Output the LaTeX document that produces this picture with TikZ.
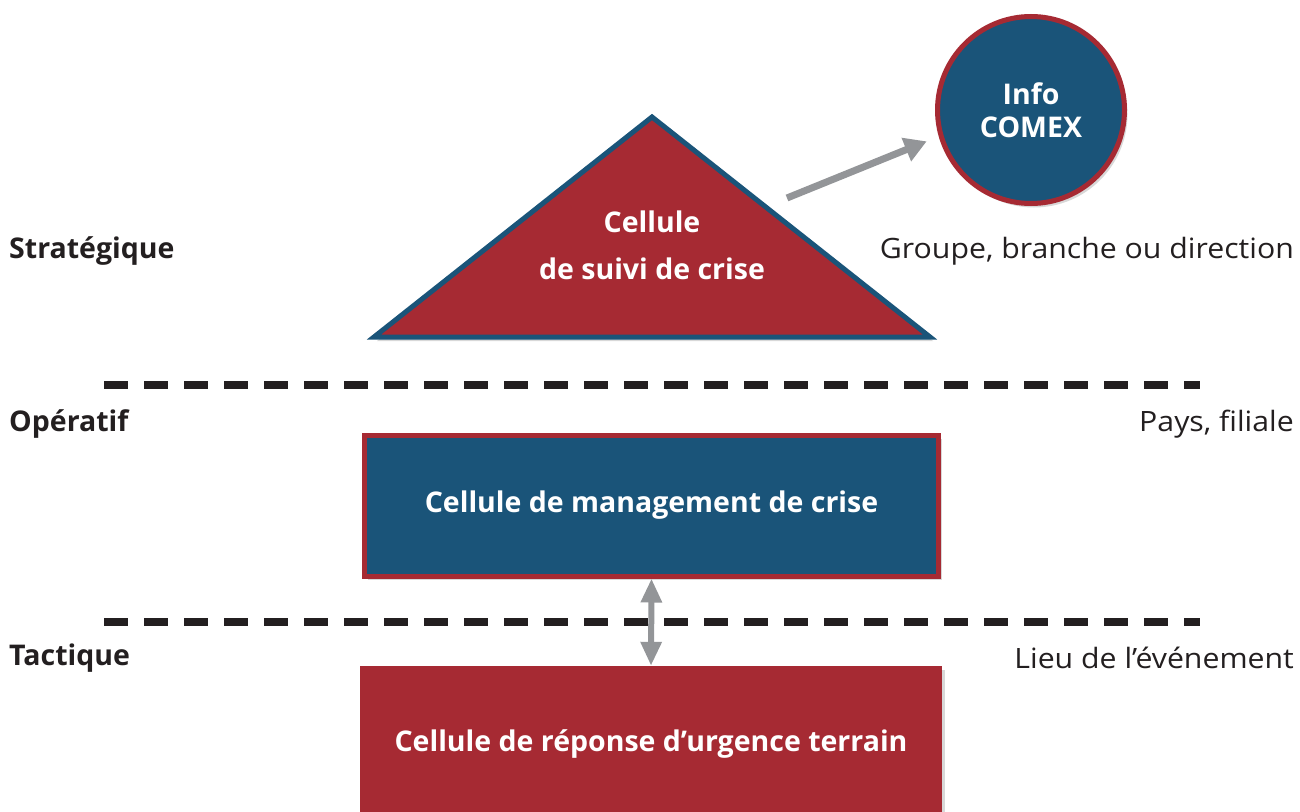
\documentclass[tikz,border=0pt]{standalone}
\usepackage{fontspec}
\setmainfont{Open Sans}[Ligatures=NoCommon]
\newfontfamily\scopefont{Open Sans}[Ligatures=NoCommon,FakeStretch=1.08]
\usetikzlibrary{arrows.meta,shadows,calc}
\definecolor{cred}{HTML}{A62A33}
\definecolor{cblue}{HTML}{1A5479}
\definecolor{cgray}{HTML}{939598}
\definecolor{ctext}{HTML}{231F20}
\begin{document}
\begin{tikzpicture}[x=1pt,y=-1pt,
  shadowed/.style={drop shadow={opacity=0.3,shadow xshift=3pt,shadow yshift=-4pt}},
  lvl/.style={anchor=west,text=ctext,font=\fontsize{28.5}{32}\selectfont\bfseries,inner sep=0pt},
  scope/.style={anchor=east,text=ctext,font=\scopefont\fontsize{28}{32}\selectfont,inner sep=0pt},
  whitetext/.style={text=white,font=\fontsize{28.5}{33}\selectfont\bfseries,align=center},
  sep/.style={line width=8pt,draw=ctext,dash pattern=on 24pt off 16pt},
  grayarrow/.style={draw=cgray,line width=7pt},
]
\useasboundingbox (0,0) rectangle (1300,811);
\fill[white] (0,0) rectangle (1300,811);

% separators
\coordinate (s1a) at (104,385);
\coordinate (s1b) at (1200,385);
\coordinate (s2a) at (104,622);
\coordinate (s2b) at (1200,622);
\draw[sep] (s1a) -- (s1b);
\draw[sep] (s2a) -- (s2b);

% triangle
\path[fill=cred,draw=cblue,line width=5pt,line join=miter,shadowed]
  (652,117) -- (374,337) -- (930,337) -- cycle;
\node[whitetext,font=\fontsize{28.5}{47}\selectfont\bfseries] (suivi) at (652,245) {Cellule\\de suivi de crise};

% circle
\node[circle,fill=cblue,draw=cred,line width=5pt,minimum size=187pt,inner sep=0pt,shadowed,
  whitetext] (comex) at (1031,110) {Info\\COMEX};

% arrow to comex
\coordinate (arrS) at (787,198);
\draw[grayarrow,-{Triangle[length=22pt,width=24pt]},shorten >=13pt] (arrS) -- (comex.196);

% rectangles
\node[rectangle,fill=cblue,draw=cred,line width=5pt,minimum width=574pt,minimum height=141pt,
  shadowed,whitetext] (mgmt) at (651.5,505.5) {Cellule de management de crise};
\node[rectangle,fill=cred,minimum width=582pt,minimum height=156pt,
  shadowed,whitetext] (terrain) at (651,744) {Cellule de réponse d’urgence terrain};

\draw[grayarrow,line width=6pt,{Triangle[length=24pt,width=20pt]}-{Triangle[length=24pt,width=20pt]}]
  (mgmt.south) -- (terrain.north);

% labels
\node[lvl] (strat) at (9,251) {Stratégique};
\node[lvl] (oper) at (9,424) {Opératif};
\node[lvl] (tact) at (9,658) {Tactique};
\node[scope] (groupe) at (1294,251) {Groupe, branche ou direction};
\node[scope] (pays) at (1294,424) {Pays, filiale};
\node[scope] (lieu) at (1294,658) {Lieu de l’événement};
\end{tikzpicture}
\end{document}
